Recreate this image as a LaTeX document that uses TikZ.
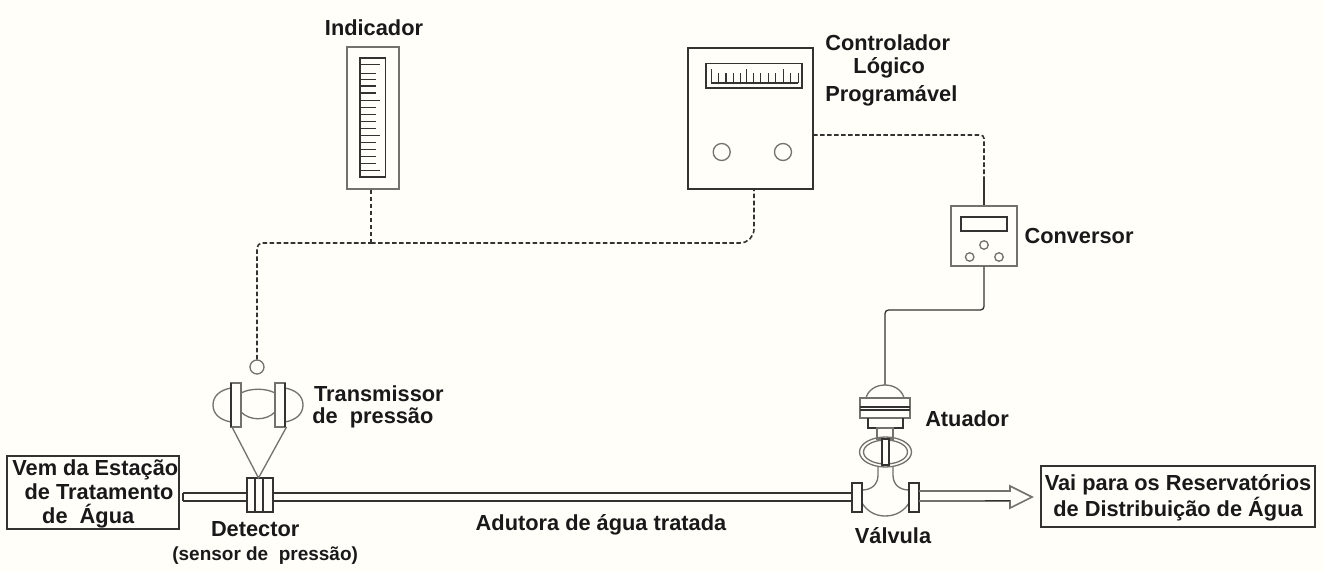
\documentclass[tikz,border=0pt]{standalone}
\usepackage{fontspec}
\setmainfont{Liberation Sans}
\definecolor{bg}{HTML}{FFFEF9}
\definecolor{ink}{HTML}{333331}
\definecolor{soft}{HTML}{74726C}
\tikzset{
 lab/.style={font=\bfseries\fontsize{12.4}{12.6}\selectfont, text=black!90, align=center, inner sep=0pt},
 ln/.style={draw=ink, line width=0.75pt},
 lnsoft/.style={draw=soft, line width=0.75pt},
 sig/.style={draw=ink, line width=0.9pt, dash pattern=on 2.6pt off 1.4pt},
 txtbox/.style={draw=ink, line width=0.75pt},
}
\begin{document}
\begin{tikzpicture}[x=0.02cm,y=-0.02cm]
\useasboundingbox (0,0) rectangle (1323,572);
\fill[bg] (0,0) rectangle (1323,572);
% indicator
\node[lnsoft, draw, minimum width=1.04cm, minimum height=2.84cm, inner sep=0pt] (ind) at (373,118) {};
\draw[ln,line width=0.9pt] (360,58) rectangle (385.5,177);
\foreach \y/\e in {64.7/380,73.3/376,79.3/376,86/376,93/376,100.3/380,107.3/376,114.3/376,121.3/376,128.3/376,135.3/380,142.3/376,149.3/376,156.3/376,163.3/376,170.3/380}
 \draw[ln] (360,\y) -- (\e,\y);
% PLC
\node[ln, draw, line width=0.9pt, minimum width=2.5cm, minimum height=2.82cm, inner sep=0pt] (plc) at (750.5,118.5) {};
\draw[ln,line width=0.9pt] (706,63.5) rectangle (802,88);
\draw[ln] (711,83) -- (798,83);
\foreach \x/\t in {711.3/69,718.3/73,726/73,733.3/73,740.3/73,746.3/69,753.3/73,760.7/73,768.3/73,775.3/73,783.3/69,790.7/73,798.3/73}
 \draw[ln] (\x,83) -- (\x,\t);
\node[lnsoft, draw, circle, minimum size=0.34cm, inner sep=0pt] (k1) at (721.7,152) {};
\node[lnsoft, draw, circle, minimum size=0.34cm, inner sep=0pt] (k2) at (783,152) {};
% converter
\node[lnsoft, draw, minimum width=1.32cm, minimum height=1.2cm, inner sep=0pt] (conv) at (984,236) {};
\draw[ln,line width=0.9pt] (961,217) rectangle (1007,231);
\foreach \n/\x/\y in {c1/984/245,c2/969.7/257,c3/999/257}
 \node[lnsoft, draw, circle, minimum size=0.17cm, inner sep=0pt] (\n) at (\x,\y) {};
% transmitter
\node[lnsoft, draw, circle, minimum size=0.28cm, inner sep=0pt] (tc) at (257,367) {};
\draw[lnsoft] (231,388) .. controls (220,390) and (213,396) .. (213,405) .. controls (213,414) and (220,420) .. (231,422);
\draw[lnsoft] (285,388) .. controls (296,390) and (303,396) .. (303,405) .. controls (303,414) and (296,420) .. (285,422);
\draw[lnsoft] (241,393) .. controls (250,388) and (266,388) .. (275,393);
\draw[lnsoft] (241,412) .. controls (250,421) and (266,421) .. (275,412);
\draw[lnsoft] (231,383) rectangle (241,427);
\draw[lnsoft] (275,383) rectangle (285,427);
\draw[ln] (231,383) -- (231,427) (285,383) -- (285,427);
% pipe
\draw[ln,line width=1.05pt] (183,493) -- (247,493) (183,501) -- (247,501) (183,493) -- (183,501);
\draw[ln,line width=1.05pt] (273,493) -- (852,493) (273,501) -- (852,501);
% detector
\node[ln, draw, minimum width=0.52cm, minimum height=0.68cm, inner sep=0pt] (det) at (260,495) {};
\draw[ln] (255,478) -- (255,512) (263,478) -- (263,512);
\coordinate (legtip) at (258.5,478);
\draw[lnsoft] (232,427) -- (legtip) -- (286.5,427);
% controller links
\coordinate (junc) at (371,243);
\draw[sig] (ind.south -| junc) -- (junc);
\draw[sig, rounded corners=3pt] (tc.north) -- (257,243) -- (junc);
\draw[sig, rounded corners=8pt] (junc) -- (754,243) -- (754,189);
\draw[sig, rounded corners=2pt] (813,135) -- (984,135) -- (984,180);
\draw[ln] (984,180) -- (conv.north);
% actuator
\coordinate (act) at (885,385);
\draw[ln, rounded corners=2pt] (conv.south) -- (984,310) -- (885,310) -- (act);
\draw[lnsoft] (866,398) .. controls (868,390) and (876,385) .. (act) .. controls (894,385) and (902,390) .. (904,398);
\draw[lnsoft] (860,398) rectangle (910,418);
\draw[ln] (860,407) -- (910,407) (860,410) -- (910,410);
\draw[ln] (868,418) -- (868,428) -- (903,428) -- (903,418);
\draw[lnsoft] (877,428) rectangle (893,439);
\draw[lnsoft] (885.5,452) ellipse [x radius=26, y radius=15];
\draw[lnsoft] (885.5,452) ellipse [x radius=22, y radius=12];
\fill[bg] (882,439) rectangle (889,465);
\draw[ln,line width=0.9pt] (882,439) rectangle (889,465);
% valve
\draw[lnsoft] (878,466) -- (878,475) .. controls (878,484) and (872,490) .. (862,490);
\draw[lnsoft] (893,466) -- (893,475) .. controls (893,484) and (899,490) .. (909,490);
\draw[lnsoft] (862,503) .. controls (867,511) and (875,516) .. (885,516) .. controls (896,516) and (904,511) .. (909,503);
\draw[ln] (852,483) rectangle (862,512);
\draw[ln] (909,483) rectangle (919,512);
% arrow
\draw[lnsoft,line width=0.9pt] (919,491) -- (1010,491) -- (1010,486) -- (1032,497) -- (1010,508) -- (1010,501) -- (919,501);
\draw[ln] (985,500.5) -- (1010,500.5);
% labels
\node[lab] (lind) at (374,28) {Indicador};
\node[lab, align=left, anchor=north west] (lplc) at (825,34) {Controlador\\[0.6pt]\hspace*{16pt}Lógico\\[3.2pt]Programável};
\node[lab] (lconv) at (1079,236) {Conversor};
\node[lab, align=left, anchor=west] (ltr) at (312,406.5) {\hspace*{1pt}Transmissor\\de\ \ pressão};
\node[lab] (lact) at (967,419) {Atuador};
\node[lab] (lval) at (893,536) {Válvula};
\node[lab] (lad) at (601,525) {Adutora de água tratada};
\node[lab, align=left, anchor=west] (ldet) at (172,543) {\hspace*{22pt}Detector\\[1.5pt]{\fontsize{10.8}{12.6}\selectfont (sensor de\ \ pressão)}};
\node[txtbox, minimum width=3.44cm, minimum height=1.46cm] (src) at (93,492.5) {};
\node[lab, align=left, anchor=west] (srct) at (12,494) {Vem da Estação\\[0.6pt]\hspace*{7pt}de Tratamento\\[1.2pt]\hspace*{17pt}de\ \ Água};
\node[txtbox, minimum width=5.48cm, minimum height=1.22cm] (dst) at (1178,496.5) {};
\node[lab] (dstt) at (1178,498) {Vai para os Reservatórios\\de Distribuição de Água};
\end{tikzpicture}
\end{document}
